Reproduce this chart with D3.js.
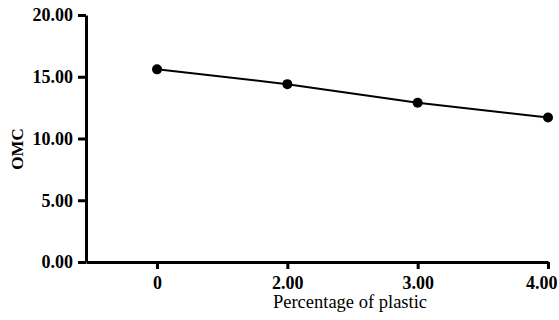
<!DOCTYPE html>
<html>
<head>
<meta charset="utf-8">
<script src="https://cdn.jsdelivr.net/npm/d3@7"></script>
<style>
  body { margin: 0; background: #fff; }
  svg { display: block; font-family: "Liberation Serif", "Times New Roman", serif; }
</style>
</head>
<body>
<div id="chart"></div>
<script>
'use strict';

// plastic content categories and measured OMC
const categories = ['0', '2.00', '3.00', '4.00'];
const omcValues = [15.6, 14.4, 12.9, 11.7];
const yTicks = [0, 5, 10, 15, 20];

const width = 559;
const height = 320;

const svg = d3.select('#chart')
  .append('svg')
  .attr('width', width)
  .attr('height', height);

// categories sit on an index axis that starts a little left of the first point
const x = d3.scaleLinear()
  .domain([-0.545, categories.length - 1])
  .range([86, 548]);

const y = d3.scaleLinear()
  .domain([0, 20])
  .range([262, 15]);

const yAxis = svg.append('g')
  .attr('transform', 'translate(86,0)')
  .call(d3.axisLeft(y)
    .tickValues(yTicks)
    .tickFormat(d3.format('.2f'))
    .tickSizeInner(8)
    .tickSizeOuter(0)
    .tickPadding(5));

const xAxis = svg.append('g')
  .attr('transform', 'translate(0,262)')
  .call(d3.axisBottom(x)
    .tickValues(d3.range(categories.length))
    .tickFormat(i => categories[i])
    .tickSizeInner(7)
    .tickSizeOuter(0)
    .tickPadding(7));

[yAxis, xAxis].forEach(ax => {
  ax.select('.domain').attr('stroke', '#000').attr('stroke-width', 3);
  ax.selectAll('.tick line').attr('stroke', '#000').attr('stroke-width', 3);
  ax.selectAll('.tick text')
    .attr('fill', '#000')
    .attr('font-size', 18)
    .attr('font-weight', 'bold')
    .attr('font-family', '"Liberation Serif", serif');
});

// last label is pulled in so it stays inside the frame
xAxis.selectAll('.tick text')
  .filter((d, i) => i === categories.length - 1)
  .attr('text-anchor', 'end')
  .attr('dx', 9);

const line = d3.line()
  .x((d, i) => x(i))
  .y(d => y(d));

svg.append('path')
  .datum(omcValues)
  .attr('d', line)
  .attr('fill', 'none')
  .attr('stroke', '#000')
  .attr('stroke-width', 2);

svg.selectAll('.dot')
  .data(omcValues)
  .enter()
  .append('circle')
  .attr('class', 'dot')
  .attr('cx', (d, i) => x(i))
  .attr('cy', d => y(d))
  .attr('r', 5)
  .attr('fill', '#000');

svg.append('text')
  .attr('x', 350)
  .attr('y', 308)
  .attr('text-anchor', 'middle')
  .attr('font-size', 18.5)
  .text('Percentage of plastic');

svg.append('text')
  .attr('transform', 'translate(23,149) rotate(-90)')
  .attr('text-anchor', 'middle')
  .attr('font-size', 17)
  .attr('font-weight', 'bold')
  .text('OMC');
</script>
</body>
</html>
